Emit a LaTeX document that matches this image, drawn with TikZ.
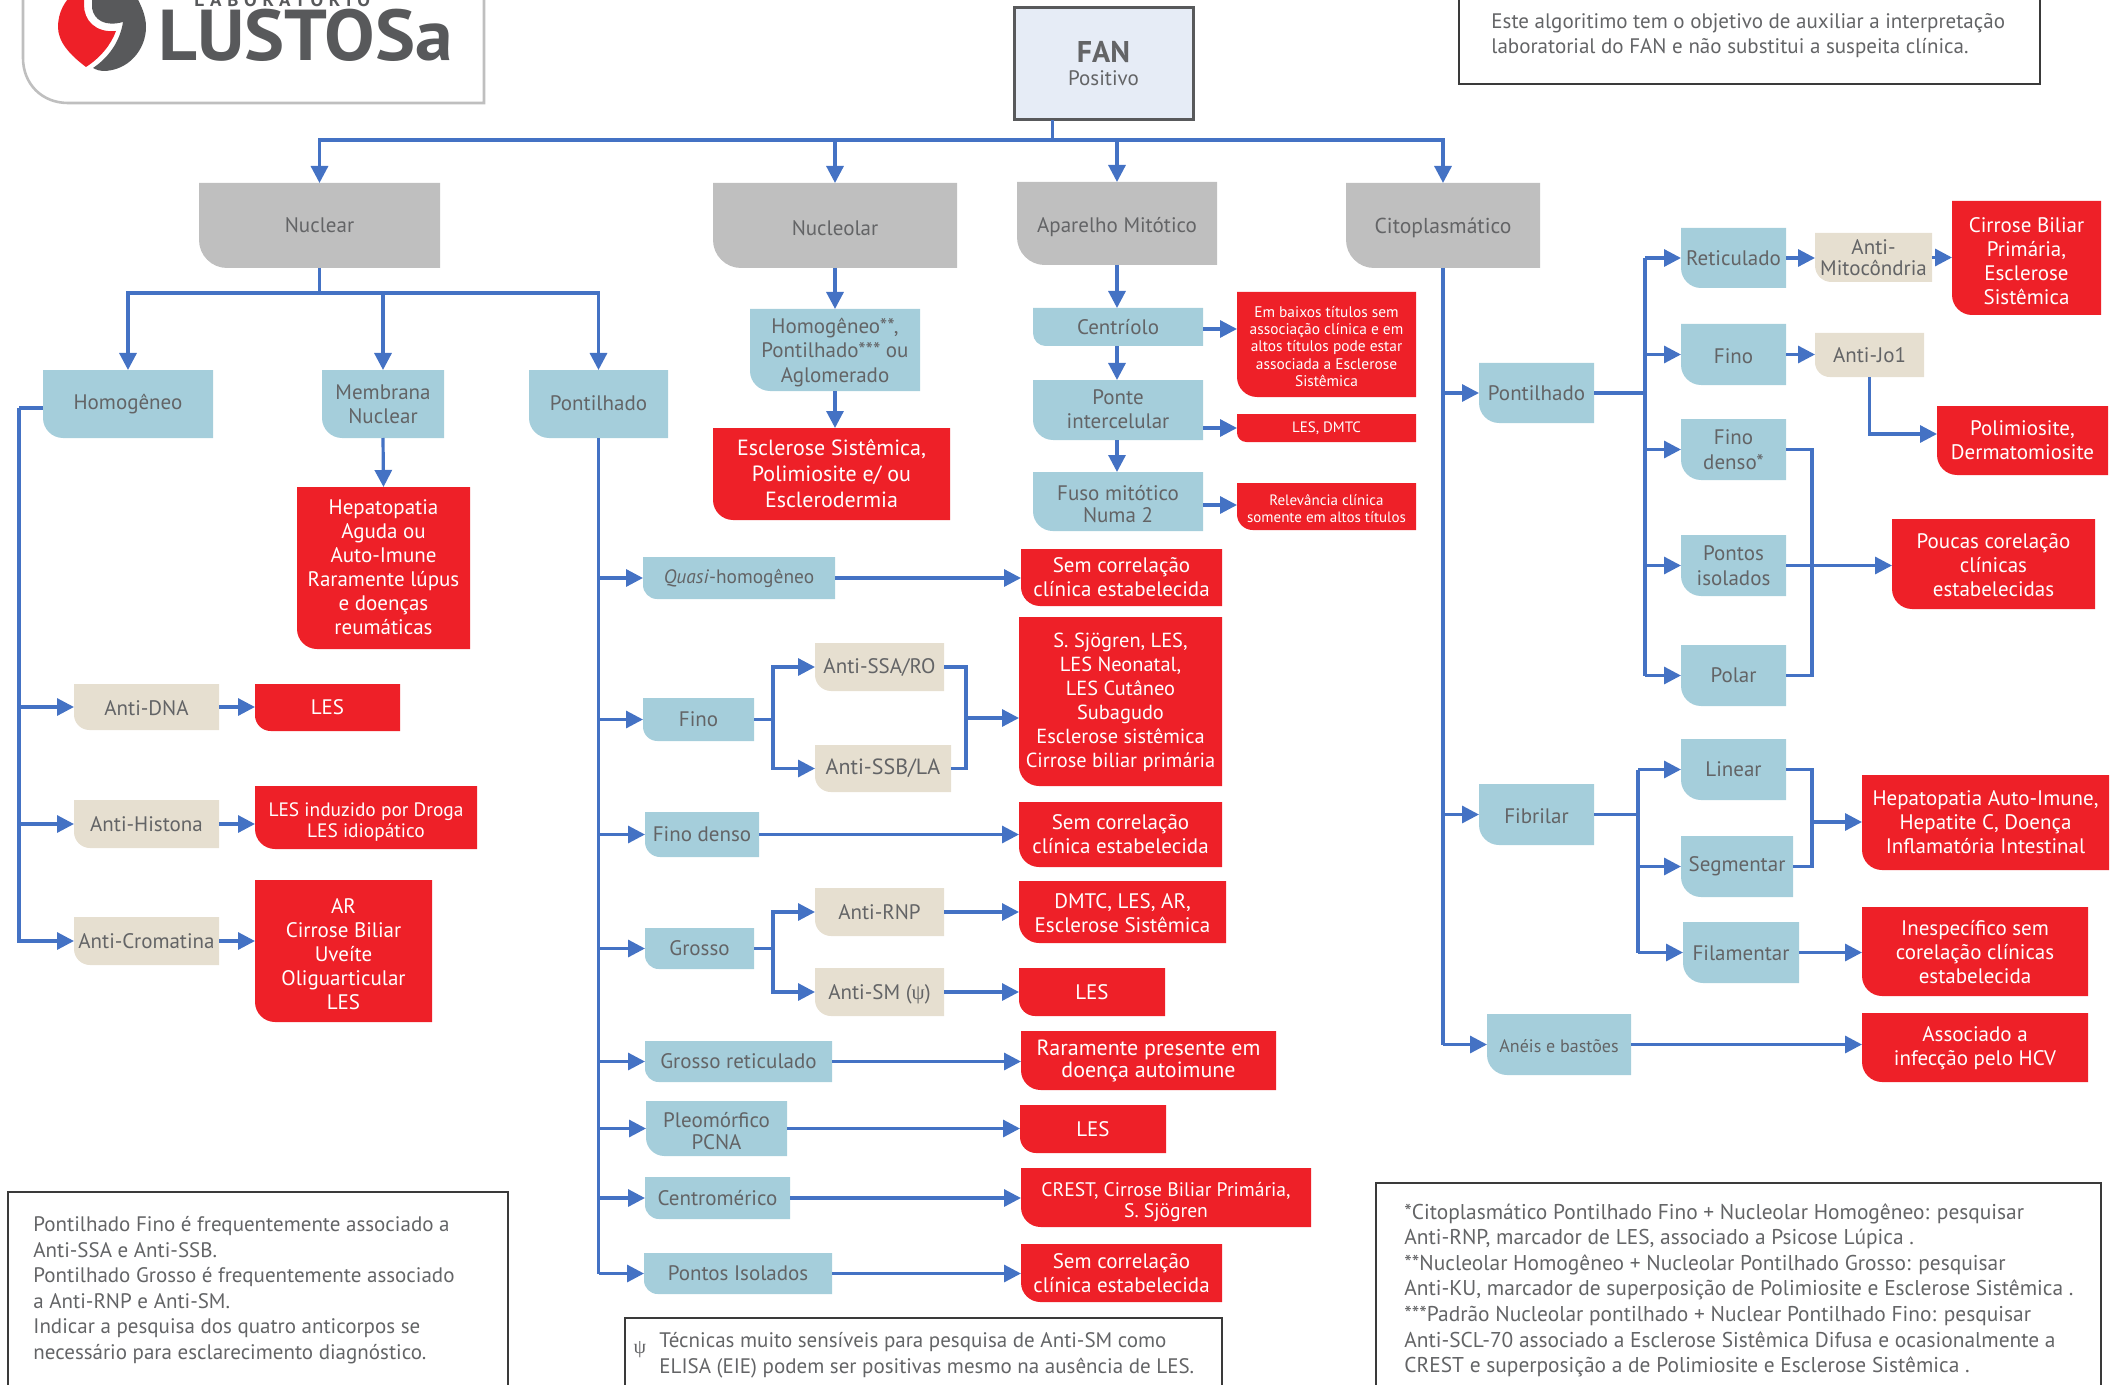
\documentclass[tikz,border=0pt]{standalone}
\usepackage{fontspec}
\setmainfont{PT Sans}
\newfontfamily\psifont{Liberation Serif}
\newfontfamily\logofont[FakeStretch=1.05]{PT Sans}
\usetikzlibrary{arrows.meta,calc}
\definecolor{cblue}{HTML}{4472C4}
\definecolor{cteal}{HTML}{A5CEDB}
\definecolor{cgray}{HTML}{BFBFBF}
\definecolor{cbeige}{HTML}{E6DFD0}
\definecolor{cred}{HTML}{EE2028}
\definecolor{ctext}{HTML}{636466}
\definecolor{cfan}{HTML}{E6ECF6}
\definecolor{cdark}{HTML}{58595B}
\definecolor{cframe}{HTML}{3A3A3A}
\newcommand\sz[2]{\fontsize{#1pt}{#2pt}\selectfont}
% shift the text block inside a box: #1 pt down, keeping the box anchors
\newcommand\dn[2]{\vbox{\vskip\dimexpr #1pt*2\relax\hbox{\begin{tabular}{@{}c@{}}#2\end{tabular}}}}
\tikzset{
  wire/.style={draw=cblue,line width=1.6pt,line join=miter},
  arr/.style={wire,-{Triangle[length=8.5pt,width=8.5pt]}},
  lbl/.style={inner sep=0pt,outer sep=0pt,align=center},
  notetext/.style={text=ctext,align=left,inner sep=0pt,font=\sz{10.5}{12.8}},
  noteframe/.style={draw=cframe,line width=.6pt},
}
\newcommand{\shapedbox}[9]{%
  \pgfmathsetmacro\xa{#5}\pgfmathsetmacro\ya{#6}\pgfmathsetmacro\xb{#7}\pgfmathsetmacro\yb{#8}%
  \pgfmathsetmacro\rr{min((\yb-\ya)/3,#4)}%
  \pgfmathsetmacro\rc{0.45*\rr}%
  \fill[#2] (\xa,\ya) -- (\xb,\ya) -- (\xb,\yb) -- ({\xa+\rr},\yb)
     .. controls ({\xa+\rc},\yb) and (\xa,{\yb-\rc}) .. (\xa,{\yb-\rr}) -- cycle;
  \pgfmathsetmacro\cx{(\xa+\xb)/2}\pgfmathsetmacro\cy{(\ya+\yb)/2}%
  \pgfmathsetmacro\ww{(\xb-\xa)*0.5}\pgfmathsetmacro\hh{(\yb-\ya)*0.5}%
  \node[lbl,text=#3,font=\boxfont,minimum width=\ww pt,minimum height=\hh pt] (#1) at (\cx,\cy) {#9};%
}
\newcommand{\gbox}[7][\sz{10.5}{12}]{\def\boxfont{#1}\shapedbox{#2}{cgray}{ctext}{28}{#3}{#4}{#5}{#6}{#7}}
\newcommand{\tbox}[7][\sz{10.5}{12.2}]{\def\boxfont{#1}\shapedbox{#2}{cteal}{ctext}{20}{#3}{#4}{#5}{#6}{#7}}
\newcommand{\bbox}[7][\sz{10.5}{12}]{\def\boxfont{#1}\shapedbox{#2}{cbeige}{ctext}{20}{#3}{#4}{#5}{#6}{#7}}
\newcommand{\rbox}[7][\sz{10.5}{12}]{\def\boxfont{#1}\shapedbox{#2}{cred}{white}{20}{#3}{#4}{#5}{#6}{#7}}
\begin{document}
\begin{tikzpicture}[x=0.5pt,y=-0.5pt]
\useasboundingbox (0,0) rectangle (2118,1385);
\clip (0,0) rectangle (2118,1385);

% --- logo ---
\draw[draw=cgray,line width=1.3pt] (23,-10) -- (23,58) .. controls (23,84) and (42,103) .. (68,103) -- (484,103) -- (484,-10);
\fill[cred] (86,67) .. controls (70,55) and (58,42) .. (58,27) .. controls (58,12) and (65,0) .. (75,-8) -- (84,-8) -- (84,5) .. controls (84,20) and (95,33) .. (116,31) .. controls (111,45) and (100,58) .. (86,67) -- cycle;
\fill[cdark] (92,-8) -- (92,8) .. controls (94,20) and (105,27) .. (123,22) .. controls (120,42) and (108,58) .. (93,68) .. controls (97,70) and (100,71) .. (103,71) .. controls (128,71) and (146,50) .. (146,27) .. controls (146,15) and (141,5) .. (134,-8) -- cycle;
\node[anchor=base west,inner sep=0pt,text=cdark,font={\logofont\bfseries\fontsize{36pt}{36pt}\selectfont}] (logoname) at (158,61) {LUSTOSa};
\node[anchor=base west,inner sep=0pt,text=cdark,font={\logofont\bfseries\addfontfeature{LetterSpace=32}\fontsize{9pt}{9pt}\selectfont}] (logolab) at (194,7) {LABORATÓRIO};

% --- top ---
\fill[cfan] (1014,8) rectangle (1193,120);
\node[draw=cdark,line width=1.5pt,inner sep=0pt,outer sep=0pt,minimum width=89.5pt,minimum height=56pt,text=ctext,align=center,font=\sz{10.5}{11.5}] (fan) at (1103.5,64) {{\bfseries\fontsize{15pt}{15pt}\selectfont FAN}\\Positivo};

\gbox{nuclear}{199}{183}{440}{268}{\dn{1.35}{Nuclear}}
\gbox{nucleolar}{713}{183}{957}{268}{\dn{2.4}{Nucleolar}}
\gbox{aparelho}{1017}{182}{1217}{265}{\dn{2}{Aparelho Mitótico}}
\gbox[\sz{10.8}{12}]{cito}{1346}{183}{1540}{268}{\dn{1.7}{Citoplasmático}}

% --- nuclear ---
\tbox{hom}{43}{370}{213}{438}{Homogêneo}
\tbox{memb}{322}{370}{444}{438}{Membrana\\Nuclear}
\tbox{pont}{529}{370}{668}{438}{\dn{.7}{Pontilhado}}
\rbox{hepa}{297}{487}{470}{649}{\dn{1}{Hepatopatia\\Aguda ou\\Auto-Imune\\Raramente lúpus\\e doenças\\reumáticas}}
\bbox{dna}{74}{684}{219}{730}{\dn{2}{Anti-DNA}}
\rbox{lesa}{255}{684}{400}{731}{LES}
\bbox{hist}{74}{800}{219}{848}{Anti-Histona}
\rbox[\sz{9.7}{10.6}]{lesb}{255}{786}{477}{849}{\dn{2.7}{LES induzido por Droga\\LES idiopático}}
\bbox{crom}{74}{917}{219}{965}{Anti-Cromatina}
\rbox{arbox}{255}{880}{432}{1022}{\dn{2.7}{AR\\Cirrose Biliar\\Uveíte\\Oliguarticular\\LES}}

% --- pontilhado nuclear ---
\tbox[\sz{9.7}{11}]{quasi}{643}{557}{835}{599}{\dn{.7}{\textit{Quasi}-homogêneo}}
\rbox{rquasi}{1021}{549}{1222}{606}{Sem correlação\\clínica estabelecida}
\tbox{fino}{643}{698}{754}{741}{Fino}
\bbox{ssa}{815}{643}{944}{691}{Anti-SSA/RO}
\bbox[\sz{11}{12}]{ssb}{815}{745}{951}{792}{Anti-SSB/LA}
\rbox[\sz{10.2}{12}]{rfino}{1019}{617}{1222}{786}{\dn{.8}{S. Sjögren, LES,\\LES Neonatal,\\LES Cutâneo\\Subagudo\\Esclerose sistêmica\\Cirrose biliar primária}}
\tbox{fdenso}{645}{812}{759}{857}{Fino denso}
\rbox{rfdenso}{1019}{802}{1222}{867}{Sem correlação\\clínica estabelecida}
\tbox{grosso}{645}{928}{754}{969}{Grosso}
\bbox{rnp}{815}{888}{944}{936}{Anti-RNP}
\rbox{rrnp}{1019}{881}{1226}{943}{\dn{2}{DMTC, LES, AR,\\Esclerose Sistêmica}}
\bbox{sm}{815}{968}{944}{1016}{\dn{1.4}{Anti-SM ({\psifont ψ})}}
\rbox{rsm}{1019}{968}{1165}{1016}{LES}
\tbox{gret}{645}{1041}{832}{1082}{Grosso reticulado}
\rbox[\sz{11}{10.2}]{rgret}{1021}{1031}{1276}{1090}{\dn{.5}{Raramente presente em\\doença autoimune}}
\tbox[\sz{10.5}{11}]{pleo}{646}{1101}{787}{1156}{\dn{2.7}{Pleomórfico\\PCNA}}
\rbox{rpleo}{1020}{1105}{1166}{1153}{LES}
\tbox{centr}{645}{1177}{790}{1219}{Centromérico}
\rbox[\sz{9.8}{10.6}]{rcentr}{1021}{1168}{1311}{1227}{\dn{2.7}{CREST, Cirrose Biliar Primária,\\S. Sjögren}}
\tbox{pisol}{644}{1253}{832}{1294}{Pontos Isolados}
\rbox{rpisol}{1021}{1244}{1222}{1302}{Sem correlação\\clínica estabelecida}

% --- nucleolar ---
\tbox{hn}{750}{309}{920}{391}{\dn{1.4}{Homogêneo**,\\Pontilhado*** ou\\Aglomerado}}
\rbox[\sz{11}{13}]{resc}{713}{428}{950}{520}{Esclerose Sistêmica,\\Polimiosite e/ ou\\Esclerodermia}

% --- aparelho ---
\tbox{cent}{1033}{308}{1203}{346}{Centríolo}
\tbox{ponte}{1033}{380}{1203}{440}{\dn{.7}{Ponte\\intercelular}}
\tbox[\sz{10.5}{11}]{fuso}{1033}{472}{1203}{531}{\dn{2.7}{Fuso mitótico\\Numa 2}}
\rbox[\sz{7.7}{8.6}]{rcent}{1237}{292}{1416}{397}{\dn{2}{Em baixos títulos sem\\associação clínica e em\\altos títulos pode estar\\associada a Esclerose\\Sistêmica}}
\rbox[\sz{7.5}{8.6}]{rponte}{1237}{414}{1416}{442}{LES, DMTC}
\rbox[\sz{7.5}{8.6}]{rfuso}{1237}{483}{1416}{530}{\dn{2}{Relevância clínica\\somente em altos títulos}}

% --- citoplasmatico ---
\tbox{cpont}{1479}{363}{1594}{423}{Pontilhado}
\tbox{ret}{1681}{228}{1786}{288}{Reticulado}
\bbox[\sz{10.5}{10.5}]{mito}{1815}{233}{1932}{282}{Anti-\\Mitocôndria}
\rbox{rmito}{1952}{201}{2101}{315}{\dn{3}{Cirrose Biliar\\Primária,\\Esclerose\\Sistêmica}}
\tbox{cfino}{1681}{324}{1786}{385}{\dn{2}{Fino}}
\bbox{jo}{1815}{333}{1924}{377}{Anti-Jo1}
\rbox{rjo}{1937}{406}{2108}{475}{Polimiosite,\\Dermatomiosite}
\tbox{cfd}{1681}{419}{1786}{480}{Fino\\denso*}
\tbox{cpi}{1681}{535}{1786}{596}{Pontos\\isolados}
\tbox{polar}{1681}{645}{1786}{706}{Polar}
\rbox{rpouc}{1892}{519}{2095}{609}{\dn{2}{Poucas corelação\\clínicas\\estabelecidas}}
\tbox{fib}{1479}{784}{1594}{845}{\dn{2}{Fibrilar}}
\tbox{linear}{1681}{739}{1786}{800}{Linear}
\tbox{seg}{1681}{836}{1793}{897}{\dn{0}{Segmentar}}
\tbox{fil}{1683}{922}{1799}{983}{\dn{1.4}{Filamentar}}
\rbox{rhep}{1862}{775}{2109}{870}{\dn{1}{Hepatopatia Auto-Imune,\\Hepatite C, Doença\\Inflamatória Intestinal}}
\rbox{rinesp}{1862}{907}{2088}{996}{\dn{1.4}{Inespecífico sem\\corelação clínicas\\estabelecida}}
\tbox[\sz{9}{10}]{aneis}{1487}{1014}{1631}{1075}{\dn{2}{Anéis e bastões}}
\rbox{rassoc}{1862}{1013}{2088}{1082}{\dn{.5}{Associado a\\infecção pelo HCV}}

% --- connectors: top ---
\coordinate (bus) at (1052.5,140);
\draw[wire] (fan.south -| bus) -- (bus);
\draw[arr] (bus) -| (nuclear.north);
\draw[arr] (bus) -| (nucleolar.north);
\draw[arr] (bus) -| (aparelho.north);
\draw[arr] (bus) -| (cito.north);

% nuclear
\coordinate (nb) at (nuclear.south |- 0,293);
\draw[wire] (nuclear.south) -- (nb);
\draw[arr] (nb) -| (hom.north);
\draw[arr] (nb) -| (memb.north);
\draw[arr] (nb) -| (pont.north);
\draw[arr] (memb.south) -- (hepa.north);
\coordinate (hv) at (19,408);
\draw[wire] (hom.west |- hv) -- (hv);
\draw[arr] (hv) |- (dna.west);
\draw[arr] (hv) |- (hist.west);
\draw[arr] (hv) |- (crom.west);
\draw[arr] (dna.east) -- (dna.east -| lesa.west);
\draw[arr] (hist.east) -- (hist.east -| lesb.west);
\draw[arr] (crom.east) -- (crom.east -| arbox.west);

% pontilhado trunk
\draw[wire] (pont.south) -- (pont.south |- pisol.west);
\foreach \n in {quasi,fino,fdenso,grosso,gret,pleo,centr,pisol}
  \draw[arr] (pont.south |- \n.west) -- (\n.west);
\draw[arr] (quasi.east) -- (quasi.east -| rquasi.west);
\draw[arr] (fdenso.east) -- (fdenso.east -| rfdenso.west);
\draw[arr] (gret.east) -- (gret.east -| rgret.west);
\draw[arr] (pleo.east) -- (pleo.east -| rpleo.west);
\draw[arr] (centr.east) -- (centr.east -| rcentr.west);
\draw[arr] (pisol.east) -- (pisol.east -| rpisol.west);
\coordinate (fj) at (773,719);
\draw[wire] (fino.east) -- (fino.east -| fj);
\draw[arr] (fj) |- (ssa.west);
\draw[arr] (fj) |- (ssb.west);
\coordinate (fm) at (966,718);
\draw[wire] (ssa.east) -| (fm);
\draw[wire] (ssb.east) -| (fm);
\draw[arr] (fm) -- (fm -| rfino.west);
\coordinate (gj) at (773,948);
\draw[wire] (grosso.east) -- (grosso.east -| gj);
\draw[arr] (gj) |- (rnp.west);
\draw[arr] (gj) |- (sm.west);
\draw[arr] (rnp.east) -- (rnp.east -| rrnp.west);
\draw[arr] (sm.east) -- (sm.east -| rsm.west);

% nucleolar
\draw[arr] (nucleolar.south) -- (nucleolar.south |- hn.north);
\draw[arr] (hn.south) -- (hn.south |- resc.north);

% aparelho
\draw[arr] (aparelho.south) -- (aparelho.south |- cent.north);
\draw[arr] (cent.south -| aparelho.south) -- (aparelho.south |- ponte.north);
\draw[arr] (ponte.south -| aparelho.south) -- (aparelho.south |- fuso.north);
\draw[arr] (cent.east |- 0,329) -- (rcent.west |- 0,329);
\draw[arr] (ponte.east |- rponte.west) -- (rponte.west);
\draw[arr] (fuso.east |- 0,505) -- (rfuso.west |- 0,505);

% cito trunk
\draw[wire] (cito.south) -- (cito.south |- aneis.west);
\foreach \n in {cpont,fib,aneis}
  \draw[arr] (cito.south |- \n.west) -- (\n.west);
\draw[arr] (aneis.east) -- (aneis.east -| rassoc.west);

% cito pontilhado
\coordinate (cj) at (1645,393);
\draw[wire] (cpont.east) -- (cpont.east -| cj);
\draw[wire] (cj |- ret.west) -- (cj |- polar.west);
\foreach \n in {ret,cfino,cfd,cpi,polar}
  \draw[arr] (cj |- \n.west) -- (\n.west);
\draw[arr] (ret.east) -- (ret.east -| mito.west);
\draw[arr] (mito.east) -- (mito.east -| rmito.west);
\draw[arr] (cfino.east) -- (cfino.east -| jo.west);
\draw[arr] (jo.south) |- (rjo.west |- 0,434);
\coordinate (cm) at (1812,565);
\draw[wire] (cfd.east) -| (cm);
\draw[wire] (polar.east) -| (cm);
\draw[arr] (cpi.east) -- (cpi.east -| rpouc.west);

% cito fibrilar
\coordinate (fbj) at (1638,814);
\draw[wire] (fib.east) -- (fib.east -| fbj);
\draw[wire] (fbj |- linear.west) -- (fbj |- fil.west);
\foreach \n in {linear,seg,fil}
  \draw[arr] (fbj |- \n.west) -- (\n.west);
\coordinate (fbm) at (1812,822);
\draw[wire] (linear.east) -| (fbm);
\draw[wire] (seg.east) -| (fbm);
\draw[arr] (fbm) -- (fbm -| rhep.west);
\draw[arr] (fil.east) -- (fil.east -| rinesp.west);

% --- notes ---
\draw[noteframe] (1459,-10) rectangle (2040,84);
\node[notetext,anchor=north west] (noteA) at (1491,13) {Este algoritimo tem o objetivo de auxiliar a interpretação\\laboratorial do FAN e não substitui a suspeita clínica.};
\draw[noteframe] (8,1400) -- (8,1192) -- (508,1192) -- (508,1400);
\node[notetext,anchor=north west] (noteB) at (33,1216) {Pontilhado Fino é frequentemente associado a\\Anti-SSA e Anti-SSB.\\Pontilhado Grosso é frequentemente associado\\a Anti-RNP e Anti-SM.\\Indicar a pesquisa dos quatro anticorpos se\\necessário para esclarecimento diagnóstico.};
\draw[noteframe] (625,1400) -- (625,1318) -- (1222,1318) -- (1222,1400);
\node[notetext,anchor=north west] (noteC) at (659,1332) {Técnicas muito sensíveis para pesquisa de Anti-SM como\\ELISA (EIE) podem ser positivas mesmo na ausência de LES.};
\node[anchor=center,inner sep=0pt,text=ctext,font={\psifont\fontsize{10pt}{10pt}\selectfont}] (psi) at (640,1350) {ψ};
\draw[noteframe] (1376,1400) -- (1376,1183) -- (2101,1183) -- (2101,1400);
\node[notetext,anchor=north west,font=\sz{10.7}{12.8}] (noteD) at (1404,1203) {*Citoplasmático Pontilhado Fino + Nucleolar Homogêneo: pesquisar\\Anti-RNP, marcador de LES, associado a Psicose Lúpica .\\**Nucleolar Homogêneo + Nucleolar Pontilhado Grosso: pesquisar\\Anti-KU, marcador de superposição de Polimiosite e Esclerose Sistêmica .\\***Padrão Nucleolar pontilhado + Nuclear Pontilhado Fino: pesquisar\\Anti-SCL-70 associado a Esclerose Sistêmica Difusa e ocasionalmente a\\CREST e superposição a de Polimiosite e Esclerose Sistêmica .};
\end{tikzpicture}
\end{document}
